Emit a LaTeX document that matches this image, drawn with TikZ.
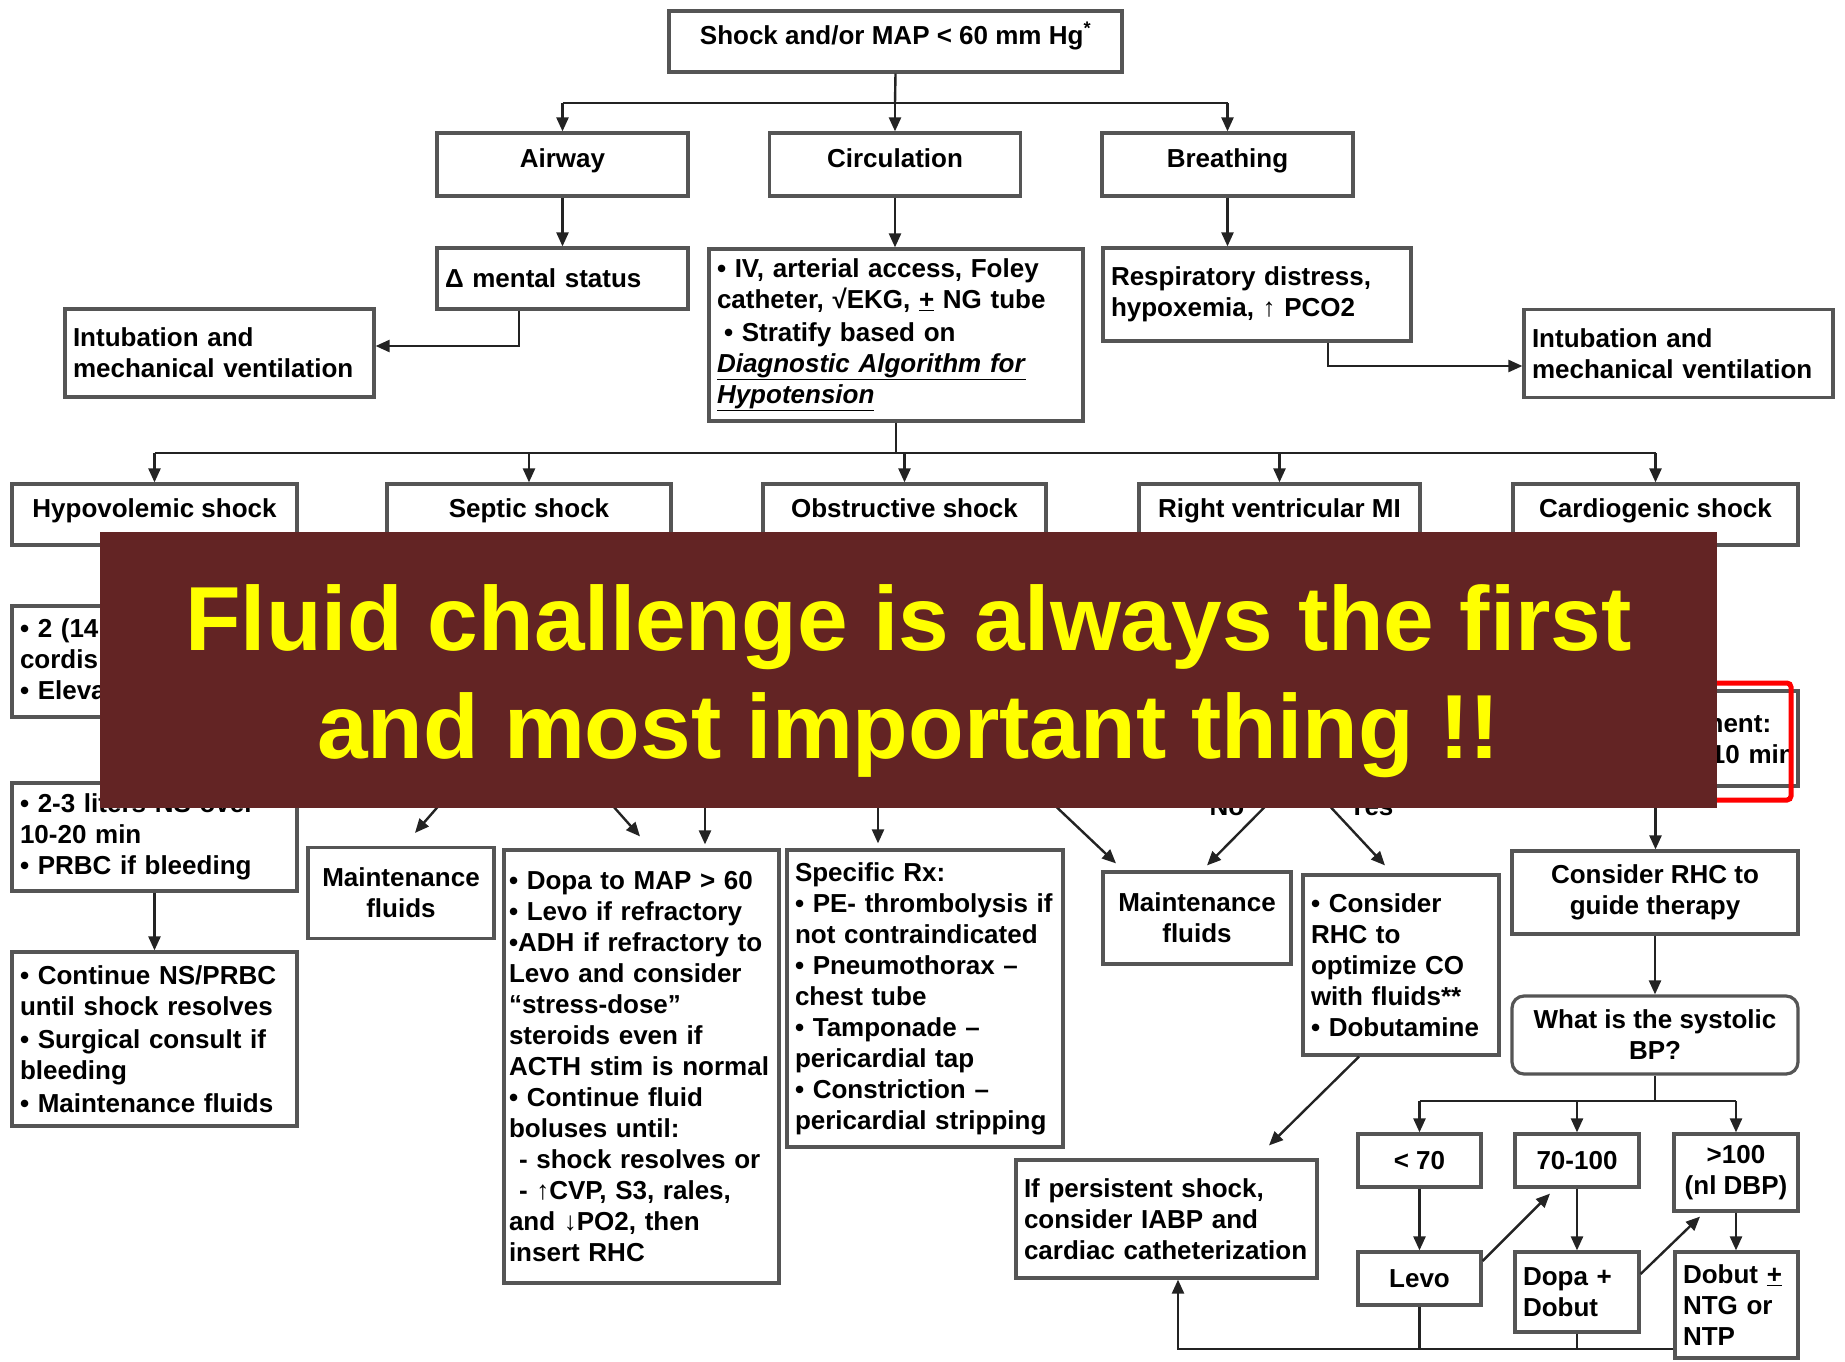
\documentclass[tikz,border=0pt]{standalone}
\usepackage{fontspec}
\setmainfont{Liberation Sans}
\usetikzlibrary{arrows.meta,calc,positioning}

\definecolor{boxgray}{RGB}{85,85,85}
\definecolor{linegray}{RGB}{35,35,35}
\definecolor{bannerred}{RGB}{99,36,36}
\definecolor{bannertext}{RGB}{255,255,0}
\definecolor{markred}{RGB}{255,0,0}

\begin{document}
\begin{tikzpicture}[x=1pt, y=-1pt,
  box/.style={draw=boxgray, line width=3.2pt, fill=white, inner xsep=8pt, inner ysep=3pt,
    font=\bfseries\fontsize{26}{31}\selectfont},
  cbox/.style={box, align=center},
  lbox/.style={box, align=left},
  onebox/.style={cbox, text height=19pt, text depth=14pt},
  link/.style={draw=linegray, line width=2.4pt},
  arr/.style={link, -{Triangle[length=14pt,width=12pt]}},
  yesno/.style={font=\bfseries\fontsize{26}{31}\selectfont, anchor=base, inner sep=0pt},
  msg/.style={text=bannertext, align=center, font=\bfseries\fontsize{91}{108}\selectfont}]

\useasboundingbox (0,0) rectangle (1845,1361);

% top of the tree
\node[onebox, minimum width=453pt, minimum height=61pt] (mapbox) at (895.5,41.5) {Shock and/or MAP < 60 mm Hg\textsuperscript{*}};

\node[onebox, minimum width=251pt, minimum height=63pt] (airway) at (562.5,164.5) {Airway};
\node[onebox, minimum width=251pt, minimum height=63pt] (circ) at (895,164.5) {Circulation};
\node[onebox, minimum width=251pt, minimum height=63pt] (breath) at (1227.5,164.5) {Breathing};

\node[lbox, text width=235pt, minimum height=61pt] (mental) at (562.5,278.5) {Δ mental status};
\node[lbox, text width=358pt, minimum height=172pt] (circdet) at (896,335)
  {• IV, arterial access, Foley\\catheter, √EKG, \underline{+} NG tube\\[2pt]\hspace*{7pt}• Stratify based on\\\underline{\textit{Diagnostic Algorithm for}}\\\underline{\textit{Hypotension}}};
\node[lbox, text width=292pt, minimum height=93pt] (resp) at (1257,294.5) {Respiratory distress,\\hypoxemia, ↑ PCO2};

\node[lbox, text width=293pt, minimum height=88pt] (intubL) at (219.5,353) {Intubation and\\mechanical ventilation};
\node[lbox, text width=293pt, minimum height=88pt] (intubR) at (1678.5,353.5) {Intubation and\\mechanical ventilation};

\coordinate (abcbus) at (895,103);
\draw [link] (mapbox.south) to (abcbus);
\draw [link] (airway.north |- abcbus) to (breath.north |- abcbus);
\draw [arr] (airway.north |- abcbus) to (airway.north);
\draw [arr] (abcbus) to (circ.north);
\draw [arr] (breath.north |- abcbus) to (breath.north);

\draw [arr] (airway.south) to (mental.north);
\draw [arr] (circ.south) to (circ.south |- circdet.north);
\draw [arr] (breath.south) to (breath.south |- resp.north);

\coordinate (mbend) at (519,346);
\draw [arr] (mbend |- mental.south) -- (mbend) -- (mbend -| intubL.east);
\coordinate (rbend) at (1328,366);
\draw [arr] (rbend |- resp.south) -- (rbend) -- (rbend -| intubR.west);

% kinds of shock
\node[onebox, minimum width=285pt, minimum height=61pt] (hypo) at (154.5,514.5) {Hypovolemic shock};
\node[onebox, minimum width=284pt, minimum height=61pt] (septic) at (529,514.5) {Septic shock};
\node[onebox, minimum width=283pt, minimum height=61pt] (obstr) at (904.5,514.5) {Obstructive shock};
\node[onebox, minimum width=281pt, minimum height=61pt] (rvmi) at (1279.5,514.5) {Right ventricular MI};
\node[onebox, minimum width=285pt, minimum height=61pt] (cardio) at (1655.5,514.5) {Cardiogenic shock};

\coordinate (shockbus) at (895,453);
\draw [link] (circdet.south) to (circdet.south |- shockbus);
\draw [link] (hypo.north |- shockbus) to (cardio.north |- shockbus);
\draw [arr] (hypo.north |- shockbus) to (hypo.north);
\draw [arr] (septic.north |- shockbus) to (septic.north);
\draw [arr] (obstr.north |- shockbus) to (obstr.north);
\draw [arr] (rvmi.north |- shockbus) to (rvmi.north);
\draw [arr] (cardio.north |- shockbus) to (cardio.north);

% hypovolemic column
\node[lbox, text width=269pt, minimum height=111pt] (hypoA) at (154.5,661.5) {• 2 (14 g)\\cordis\\• Elevate legs};
\node[lbox, text width=269pt, minimum height=108pt] (hypoB) at (154.5,837) {• 2-3 liters NS over\\10-20 min\\• PRBC if bleeding};
\node[lbox, text width=269pt, minimum height=174pt] (hypoC) at (154.5,1039)
  {• Continue NS/PRBC\\until shock resolves\\[2pt]• Surgical consult if\\bleeding\\[2pt]• Maintenance fluids};
\draw [arr] (hypoB.south) to (hypoC.north);

% septic column
\node[cbox, minimum width=186pt, minimum height=91pt] (maintS) at (401,893) {Maintenance\\fluids};
\node[lbox, inner xsep=5pt, text width=265pt, minimum height=433pt] (septdet) at (641.5,1066.5)
  {• Dopa to MAP > 60\\• Levo if refractory\\•ADH if refractory to\\Levo and consider\\“stress-dose”\\steroids even if\\ACTH stim is normal\\• Continue fluid\\boluses until:\\\hspace*{10pt}- shock resolves or\\\hspace*{10pt}- ↑CVP, S3, rales,\\and ↓PO2, then\\insert RHC};

\coordinate (sepA) at ($(maintS.north)+(55,-60)$);
\coordinate (sepAend) at ($(maintS.north)+(14,-13)$);
\coordinate (sepB) at ($(septdet.north)+(-41.5,-57)$);
\coordinate (sepBend) at ($(septdet.north)+(-1.5,-12)$);
\coordinate (sepC) at ($(septdet.north)+(63.5,-55)$);
\draw [arr] (sepA) to (sepAend);
\draw [arr] (sepB) to (sepBend);
\draw [arr] (sepC) to ($(sepC |- septdet.north)+(0,-4)$);

% obstructive column
\node[lbox, text width=260pt, minimum height=297pt] (obsdet) at (925,998.5)
  {Specific Rx:\\• PE- thrombolysis if\\not contraindicated\\• Pneumothorax –\\chest tube\\• Tamponade –\\pericardial tap\\• Constriction –\\pericardial stripping};
\coordinate (obsA) at ($(obsdet.north)+(-47,-55)$);
\draw [arr] (obsA) to ($(obsA |- obsdet.north)+(0,-5)$);

% right ventricular MI column
\node[cbox, minimum width=188pt, minimum height=92pt] (maintR) at (1197,918) {Maintenance\\fluids};
\node[lbox, text width=180pt, minimum height=180pt] (rvdet) at (1401,965)
  {• Consider\\RHC to\\optimize CO\\with fluids**\\• Dobutamine};
\node[lbox, text width=285pt, minimum height=118pt] (persist) at (1166.5,1219)
  {If persistent shock,\\consider IABP and\\cardiac catheterization};

\coordinate (rvA) at ($(maintR.north)+(-157,-79)$);
\coordinate (rvNo) at ($(maintR.north)+(85,-81)$);
\coordinate (rvYes) at ($(rvdet.north)+(-85,-82)$);
\draw [arr] (rvA) to ($(maintR.north)+(-81,-7)$);
\draw [arr] (rvNo) to ($(maintR.north)+(10,-5)$);
\draw [arr] (rvYes) to ($(rvdet.north)+(-16,-8)$);
\node[yesno] (nolabel) at (1227,815) {No};
\node[yesno] (yeslabel) at (1371,815) {Yes};

\coordinate (rvout) at ($(rvdet.south)+(-42,0)$);
\coordinate (persin) at ($(persist.north)+(102.5,-13)$);
\draw [arr] (rvout) to (persin);

% cardiogenic column
\node[lbox, inner xsep=0pt, text width=285pt, minimum height=95pt] (cardA) at (1655.5,738.5) {Volume assessment:\\500 cc NS over 10 min};
\node[cbox, minimum width=286pt, minimum height=83pt] (crhc) at (1655,892.5) {Consider RHC to\\guide therapy};
\node[cbox, rounded corners=12pt, minimum width=286pt, minimum height=78pt] (sbp) at (1655,1035) {What is the systolic\\BP?};
\draw [arr] (cardA.south) to (cardA.south |- crhc.north);
\draw [arr] (crhc.south) to (sbp.north);

\node[cbox, minimum width=123pt, minimum height=53pt] (lt70) at (1419.5,1160.5) {< 70};
\node[cbox, minimum width=124pt, minimum height=53pt] (mid) at (1577,1160.5) {70-100};
\node[cbox, minimum width=124pt, minimum height=77pt] (gt100) at (1736,1172.5) {>100\\(nl DBP)};
\node[cbox, minimum width=123pt, minimum height=53pt] (levo) at (1419.5,1278.5) {Levo};
\node[lbox, text width=108pt, minimum height=80pt] (dopa) at (1577,1292) {Dopa +\\Dobut};
\node[lbox, text width=107pt, minimum height=106pt] (dobut) at (1736.5,1305) {Dobut \underline{+}\\NTG or\\NTP};

\coordinate (bpbus) at (1655,1101);
\draw [link] (sbp.south) to (bpbus);
\draw [link] (lt70.north |- bpbus) to (gt100.north |- bpbus);
\draw [arr] (lt70.north |- bpbus) to (lt70.north);
\draw [arr] (mid.north |- bpbus) to (mid.north);
\draw [arr] (gt100.north |- bpbus) to (gt100.north);
\draw [arr] (lt70.south) to (levo.north);
\draw [arr] (mid.south) to (dopa.north);
\draw [arr] (gt100.south) to (gt100.south |- dobut.north);

\draw [arr] ($(levo.east)+(0,-17.5)$) to ($(mid.south)+(-27,5)$);
\draw [arr] ($(dopa.east)+(0,-18)$) to ($(gt100.south)+(-36,4)$);

\coordinate (retbus) at (1178,1349);
\draw [link] (levo.south) to (levo.south |- retbus);
\draw [link] (dopa.south) to (dopa.south |- retbus);
\draw [arr] (retbus -| dobut.west) -- (retbus) -- (retbus |- persist.south);

% red mark and the message over the chart
\draw [markred, line width=5pt, rounded corners=4pt] (1560,683) rectangle (1791,800);
\fill [bannerred] (100,532) rectangle (1717,808);
\node[msg] (fluidmsg) at (908.5,681.4) {Fluid challenge is always the first\\and most important thing !!};

\end{tikzpicture}
\end{document}
